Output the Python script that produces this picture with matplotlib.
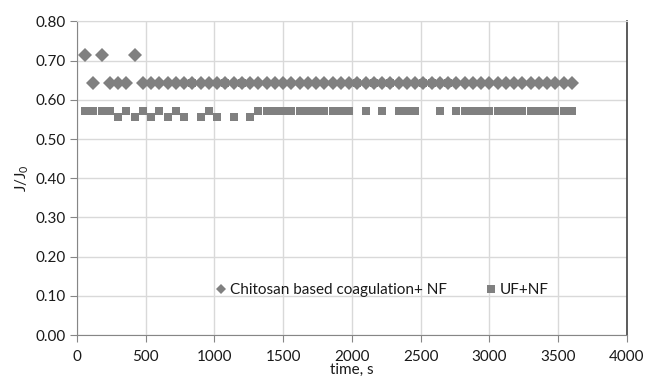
import matplotlib
matplotlib.use("Agg")
import matplotlib.pyplot as plt

plt.rcParams['font.family'] = ['Lato', 'DejaVu Sans']
plt.rcParams['mathtext.default'] = 'regular'

# czas probkowania, s
time_s = [60, 120, 180, 240, 300, 360, 420, 480, 540, 600,
          660, 720, 780, 840, 900, 960, 1020, 1080, 1140, 1200,
          1260, 1320, 1380, 1440, 1500, 1560, 1620, 1680, 1740, 1800,
          1860, 1920, 1980, 2040, 2100, 2160, 2220, 2280, 2340, 2400,
          2460, 2520, 2580, 2640, 2700, 2760, 2820, 2880, 2940, 3000,
          3060, 3120, 3180, 3240, 3300, 3360, 3420, 3480, 3540, 3600]

chitosan_nf = [0.714, 0.643, 0.714, 0.643, 0.643, 0.643, 0.714, 0.643, 0.643, 0.643,
               0.643, 0.643, 0.643, 0.643, 0.643, 0.643, 0.643, 0.643, 0.643, 0.643,
               0.643, 0.643, 0.643, 0.643, 0.643, 0.643, 0.643, 0.643, 0.643, 0.643,
               0.643, 0.643, 0.643, 0.643, 0.643, 0.643, 0.643, 0.643, 0.643, 0.643,
               0.643, 0.643, 0.643, 0.643, 0.643, 0.643, 0.643, 0.643, 0.643, 0.643,
               0.643, 0.643, 0.643, 0.643, 0.643, 0.643, 0.643, 0.643, 0.643, 0.643]

uf_nf = [0.571, 0.571, 0.571, 0.571, 0.556, 0.571, 0.556, 0.571, 0.556, 0.571,
         0.556, 0.571, 0.556, 0.643, 0.556, 0.571, 0.556, 0.643, 0.556, 0.643,
         0.556, 0.571, 0.571, 0.571, 0.571, 0.571, 0.571, 0.571, 0.571, 0.571,
         0.571, 0.571, 0.571, 0.643, 0.571, 0.643, 0.571, 0.643, 0.571, 0.571,
         0.571, 0.643, 0.643, 0.571, 0.643, 0.571, 0.571, 0.571, 0.571, 0.571,
         0.571, 0.571, 0.571, 0.571, 0.571, 0.571, 0.571, 0.571, 0.571, 0.571]

x_ticks = [0, 500, 1000, 1500, 2000, 2500, 3000, 3500, 4000]
y_ticks = [0.0, 0.1, 0.2, 0.3, 0.4, 0.5, 0.6, 0.7, 0.8]

fig = plt.figure(figsize=(6.49, 3.83), dpi=100)
ax = fig.add_axes([0.1186, 0.1253, 0.8474, 0.8188])

ax.plot(time_s, chitosan_nf, linestyle='none', marker='D', markersize=6.8,
        color='#808080', markeredgewidth=0, label='Chitosan based coagulation+ NF')
ax.plot(time_s, uf_nf, linestyle='none', marker='s', markersize=6,
        color='#808080', markeredgewidth=0, label='UF+NF')

ax.set_xlim(0, 4000)
ax.set_ylim(0, 0.8)
ax.set_xticks(x_ticks)
ax.set_yticks(y_ticks)
ax.set_yticklabels([f'{v:.2f}' for v in y_ticks])
ax.grid(True, color='#d9d9d9', linewidth=1)
ax.set_axisbelow(True)

for s in ['left', 'bottom']:
    ax.spines[s].set_color('#868686')
ax.spines['top'].set_color('#d9d9d9')
ax.spines['right'].set_color('#404040')
ax.spines['right'].set_linewidth(1.2)

ax.tick_params(axis='both', direction='out', length=5, color='#868686',
               labelsize=11, labelcolor='#1a1a1a')
ax.tick_params(axis='y', pad=3)
ax.tick_params(axis='x', pad=6)

ax.set_xlabel('time, s', fontsize=11, color='#1a1a1a', labelpad=-1)
ax.set_ylabel('J/J$_0$', fontsize=11, color='#1a1a1a', labelpad=3)

leg = ax.legend(loc='center', bbox_to_anchor=(0.553, 0.1435), ncol=2, frameon=False,
                fontsize=11, handletextpad=0.1, columnspacing=2.4, handlelength=1.0,
                borderpad=0, labelcolor='#1a1a1a')
leg.legend_handles[0].set_markersize(5.2)
leg.legend_handles[1].set_markersize(6)

fig.savefig('out.png', dpi=100)
